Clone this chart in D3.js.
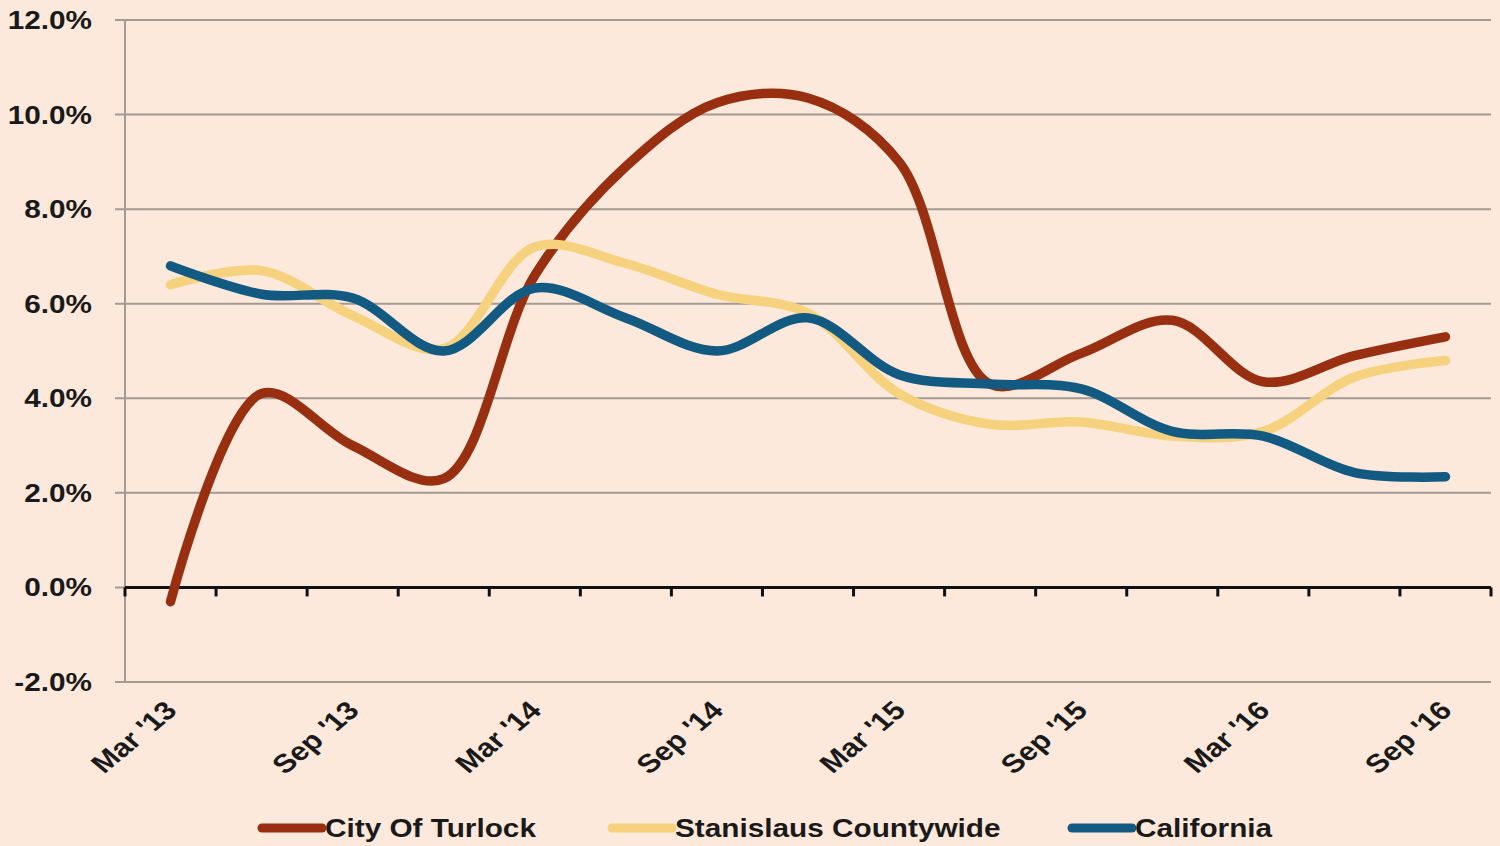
<!DOCTYPE html>
<html>
<head>
<meta charset="utf-8">
<script src="https://cdn.jsdelivr.net/npm/d3@7"></script>
<style>
  html, body { margin: 0; padding: 0; background: #fce9dc; }
  svg text { font-family: "Liberation Sans", Arial, sans-serif; font-weight: bold; fill: #1a1a1a; }
</style>
</head>
<body>
<svg id="chart" width="1500" height="846"></svg>
<script>
// quarters shown on the x axis
const quarters = ["Mar '13", "Jun '13", "Sep '13", "Dec '13", "Mar '14", "Jun '14", "Sep '14", "Dec '14",
                  "Mar '15", "Jun '15", "Sep '15", "Dec '15", "Mar '16", "Jun '16", "Sep '16"];
const quarterLabels = ["Mar '13", "Sep '13", "Mar '14", "Sep '14", "Mar '15", "Sep '15", "Mar '16", "Sep '16"];

// values in percent
const turlock    = [-0.3, 4.1, 3.0, 2.3, 6.6, 8.9, 10.25, 10.35, 9.0, 4.3, 4.95, 5.65, 4.35, 4.9, 5.3];
const stanislaus = [6.4, 6.7, 5.75, 5.05, 7.2, 6.85, 6.2, 5.8, 4.1, 3.45, 3.5, 3.2, 3.3, 4.45, 4.8];
const california = [6.8, 6.2, 6.12, 5.0, 6.33, 5.7, 5.0, 5.7, 4.5, 4.3, 4.2, 3.3, 3.2, 2.43, 2.34];

const seriesNames = ["City Of Turlock", "Stanislaus Countywide", "California"];
const seriesColors = ["#982f10", "#f6d27f", "#135a82"];
const yTicks = [-2, 0, 2, 4, 6, 8, 10, 12];

const svg = d3.select("#chart");
const plotLeft = 125, plotRight = 1491, plotTop = 20, plotBottom = 682;
const stretch = 1.19; // the source picture is widened, so text is too

const x = d3.scaleBand().domain(quarters).range([plotLeft, plotRight]);
const y = d3.scaleLinear().domain([-2, 12]).range([plotBottom, plotTop]);

// Gridlines and y labels
svg.append("g")
    .selectAll("line")
    .data(yTicks)
    .join("line")
    .attr("x1", plotLeft - 10)
    .attr("x2", plotRight)
    .attr("y1", d => y(d))
    .attr("y2", d => y(d))
    .attr("stroke", "#a39a92")
    .attr("stroke-width", 2);

svg.append("g")
    .selectAll("text")
    .data(yTicks)
    .join("text")
    .attr("text-anchor", "end")
    .attr("font-size", 25)
    .attr("transform", d => `translate(92,${y(d) + 9}) scale(${stretch},1)`)
    .text(d => d.toFixed(1) + "%");

// y axis line
svg.append("line")
    .attr("x1", plotLeft).attr("x2", plotLeft)
    .attr("y1", plotTop).attr("y2", plotBottom)
    .attr("stroke", "#a39a92")
    .attr("stroke-width", 2);

// x axis at zero with tick marks at category boundaries
svg.append("line")
    .attr("x1", plotLeft).attr("x2", plotRight)
    .attr("y1", y(0)).attr("y2", y(0))
    .attr("stroke", "#111")
    .attr("stroke-width", 3);

const boundaries = quarters.map(q => x(q)).concat([plotRight]);
svg.append("g")
    .selectAll("line")
    .data(boundaries)
    .join("line")
    .attr("x1", d => d).attr("x2", d => d)
    .attr("y1", y(0)).attr("y2", y(0) + 9)
    .attr("stroke", "#111")
    .attr("stroke-width", 3);

// x labels, rotated
svg.append("g")
    .selectAll("text")
    .data(quarterLabels)
    .join("text")
    .attr("text-anchor", "end")
    .attr("font-size", 26)
    .attr("transform", d => `translate(${x(d) + x.bandwidth() / 2 + 8},${y(-2) + 30}) scale(${stretch},1) rotate(-45)`)
    .text(d => d);

// lines
const line = d3.line()
    .x((d, i) => x(quarters[i]) + x.bandwidth() / 2)
    .y(d => y(d))
    .curve(d3.curveCatmullRom.alpha(0.5));

[turlock, stanislaus, california].forEach((values, i) => {
    svg.append("path")
        .datum(values)
        .attr("d", line)
        .attr("fill", "none")
        .attr("stroke", seriesColors[i])
        .attr("stroke-width", 9.5)
        .attr("stroke-linecap", "round")
        .attr("stroke-linejoin", "round");
});

// legend
const legendX = [262, 612, 1072];
seriesNames.forEach((name, i) => {
    const g = svg.append("g").attr("transform", `translate(${legendX[i]},828)`);
    g.append("line")
        .attr("x1", 0).attr("x2", 60)
        .attr("stroke", seriesColors[i])
        .attr("stroke-width", 9)
        .attr("stroke-linecap", "round");
    g.append("text")
        .attr("font-size", 25)
        .attr("transform", `translate(63,9) scale(${stretch},1)`)
        .text(name);
});
</script>
</body>
</html>
